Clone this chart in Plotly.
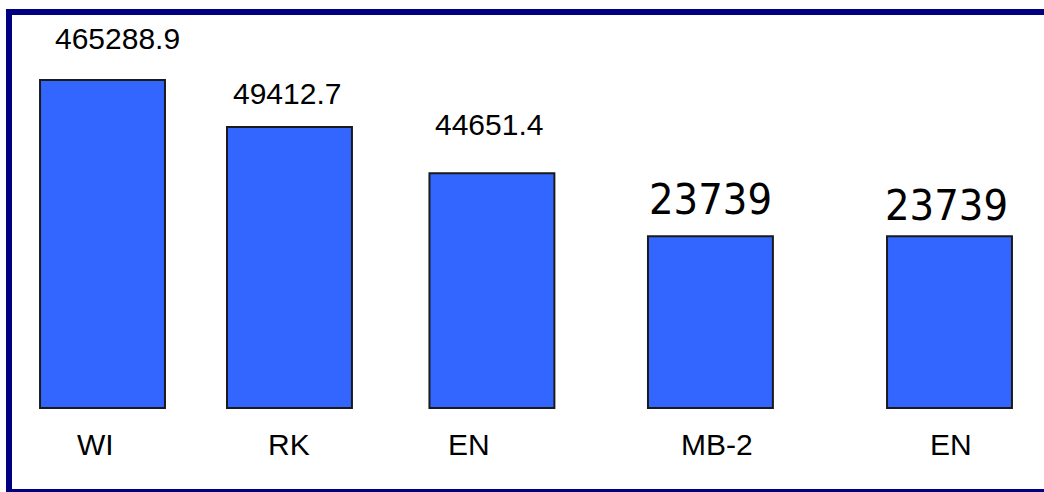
import plotly.graph_objects as go

# ---- data ----
categories = ["WI", "RK", "EN", "MB-2", "EN"]
value_labels = ["465288.9", "49412.7", "44651.4", "23739", "23739"]
bar_heights = [100, 85.7, 71.6, 52.4, 52.4]          # relative heights as drawn
bar_slots = [0, 0.883, 1.839, 2.871, 4.0]            # uneven bar spacing
label_slots = [-0.035, 0.883, 1.731, 2.902, 4.007]   # category label positions

# ---- style ----
bar_color = "#3366FF"
label_font = dict(family="Liberation Sans, Arial, Helvetica, sans-serif", size=30, color="black")
hand_font = dict(family="DejaVu Sans Condensed, DejaVu Sans, sans-serif", size=43, color="black")
value_xshift = [15, -2, -3, 0, -3]
value_yshift = [42, 33, 49, 37, 31]

fig = go.Figure()
fig.add_trace(go.Bar(
    x=bar_slots, y=bar_heights, width=0.59,
    marker=dict(color=bar_color, line=dict(color="#1a1a1a", width=2)),
    hoverinfo="skip",
))

annotations = []
for i, (xs, h, txt) in enumerate(zip(bar_slots, bar_heights, value_labels)):
    annotations.append(dict(
        x=xs, y=h, xref="x", yref="y", text=txt, showarrow=False,
        xanchor="center", yanchor="middle",
        xshift=value_xshift[i], yshift=value_yshift[i],
        font=hand_font if i >= 3 else label_font,
    ))
for xs, cat in zip(label_slots, categories):
    annotations.append(dict(
        x=xs, y=0, xref="x", yref="y", text=cat, showarrow=False,
        xanchor="center", yanchor="middle", yshift=-36, font=label_font,
    ))

fig.update_layout(
    width=1044, height=492,
    margin=dict(l=0, r=0, t=0, b=0),
    paper_bgcolor="white", plot_bgcolor="white",
    showlegend=False,
    xaxis=dict(range=[-0.4841, 4.4463], visible=False, fixedrange=True),
    yaxis=dict(range=[-25.61, 124.39], visible=False, fixedrange=True),
    annotations=annotations,
    shapes=[dict(
        type="rect", xref="paper", yref="paper",
        x0=9 / 1044, x1=1.03, y0=0.0, y1=(492 - 12) / 492,
        line=dict(color="#000080", width=6), fillcolor="rgba(0,0,0,0)",
        layer="above",
    )],
)

fig.write_html("out.html")
